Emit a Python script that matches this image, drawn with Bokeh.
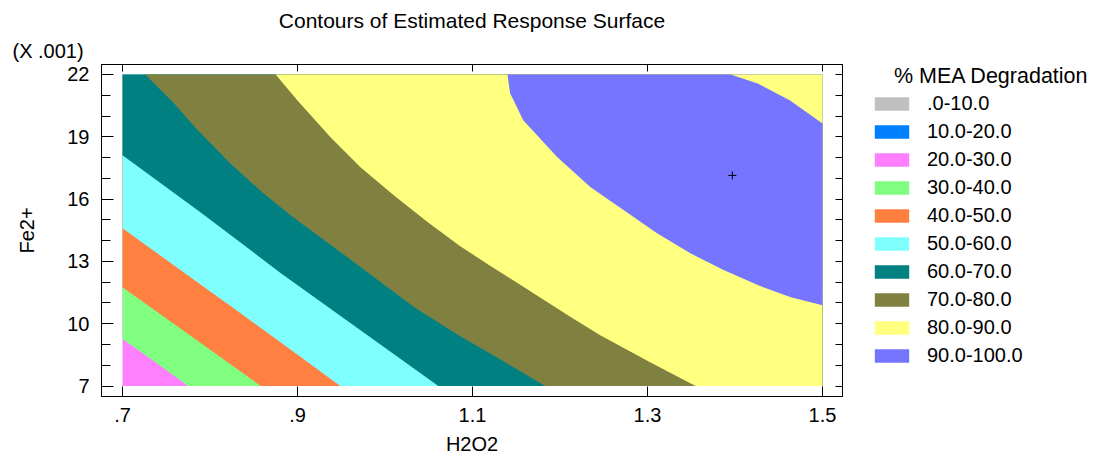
from bokeh.plotting import figure
from bokeh.layouts import row
from bokeh.models import (LinearAxis, FixedTicker, Range1d, Title, Legend, LegendItem)
from bokeh.embed import file_html
from bokeh.resources import INLINE

# ---------------- data ----------------
x_ticks = [0.7, 0.9, 1.1, 1.3, 1.5]
x_tick_labels = [".7", ".9", "1.1", "1.3", "1.5"]
y_ticks = [7, 10, 13, 16, 19, 22]          # in units of 0.001
y_minor = list(range(7, 23))

levels = [".0-10.0", "10.0-20.0", "20.0-30.0", "30.0-40.0", "40.0-50.0",
          "50.0-60.0", "60.0-70.0", "70.0-80.0", "80.0-90.0", "90.0-100.0"]
colors = ["#C0C0C0", "#0080FF", "#FF80FF", "#80FF80", "#FF8040",
          "#80FFFF", "#008080", "#808040", "#FFFF80", "#7575FF"]

# contour lines (H2O2, Fe2+ x1000)
c30_x = [0.700, 0.738, 0.775]
c30_y = [9.26, 8.13, 7.00]
c40_x = [0.700, 0.779, 0.858]
c40_y = [11.76, 9.38, 7.00]
c50_x = [0.700, 0.763, 0.825, 0.888, 0.949]
c50_y = [14.60, 12.68, 10.80, 8.88, 7.00]
c60_x = [0.700, 0.789, 0.881, 0.972, 1.061]
c60_y = [18.11, 15.37, 12.43, 9.69, 7.00]
c70_x = [0.726, 0.758, 0.786, 0.823, 0.861, 0.895, 0.957, 1.033, 1.086, 1.135, 1.183]
c70_y = [22.00, 20.65, 19.31, 17.72, 16.28, 15.13, 13.20, 10.80, 9.40, 8.20, 7.00]
c80_x = [0.875, 0.900, 0.938, 0.972, 1.010, 1.049, 1.086, 1.121, 1.155, 1.209, 1.246, 1.303, 1.355]
c80_y = [22.00, 20.75, 18.97, 17.53, 16.18, 14.88, 13.73, 12.77, 11.86, 10.41, 9.45, 8.15, 7.00]
c90_low_x = [1.140, 1.143, 1.158, 1.197, 1.235, 1.273, 1.311, 1.349, 1.387, 1.426, 1.463, 1.500]
c90_low_y = [22.00, 21.09, 19.79, 18.01, 16.57, 15.46, 14.36, 13.39, 12.58, 11.86, 11.28, 10.89]
c90_up_x = [1.395, 1.426, 1.463, 1.500]
c90_up_y = [22.00, 21.57, 20.75, 19.64]

opt_x = [1.397]
opt_y = [17.14]

# ---------------- main figure ----------------
X0, X1 = x_ticks[0], x_ticks[-1]
Y0, Y1 = y_ticks[0], y_ticks[-1]
FONT = "Liberation Sans"

p = figure(width=870, height=457, output_backend="svg", toolbar_location=None,
           title=None,
           x_range=Range1d(X0 - 0.024, X1 + 0.0229),
           y_range=Range1d(Y0 - 0.505, Y1 + 0.48),
           min_border_left=101, min_border_right=28,
           min_border_top=64, min_border_bottom=60,
           background_fill_color="white", border_fill_color="white")
p.outline_line_color = "black"
p.outline_line_width = 1
p.grid.visible = False

def band(bx, by, corners_x, corners_y, color):
    p.patch(bx + corners_x, by + corners_y, fill_color=color, line_color=None)

p.patch([X0, X1, X1, X0], [Y0, Y0, Y1, Y1], fill_color=colors[2], line_color=None)
band(c30_x, c30_y, [X1, X1, X0], [Y0, Y1, Y1], colors[3])
band(c40_x, c40_y, [X1, X1, X0], [Y0, Y1, Y1], colors[4])
band(c50_x, c50_y, [X1, X1, X0], [Y0, Y1, Y1], colors[5])
band(c60_x, c60_y, [X1, X1, X0], [Y0, Y1, Y1], colors[6])
band(c70_x, c70_y, [X1, X1], [Y0, Y1], colors[7])
band(c80_x, c80_y, [X1, X1], [Y0, Y1], colors[8])
band(c90_low_x, c90_low_y, [X1], [Y1], colors[9])
band(c90_up_x, c90_up_y, [X1], [Y1], colors[8])

p.scatter(opt_x, opt_y, marker="cross", size=8, line_color="black", line_width=1)

# axes
xa = p.xaxis[0]
xa.ticker = FixedTicker(ticks=x_ticks, minor_ticks=[])
xa.major_label_overrides = {t: l for t, l in zip(x_ticks, x_tick_labels)}
xa.major_tick_in = 10
xa.major_tick_out = 0
xa.minor_tick_line_color = None
xa.major_label_standoff = 11
xa.major_label_text_font = FONT
xa.major_label_text_font_size = "20px"
xa.major_label_text_color = "black"
xa.axis_label = "H2O2"
xa.axis_label_text_font = FONT
xa.axis_label_text_font_size = "20px"
xa.axis_label_text_font_style = "normal"
xa.axis_label_standoff = 8
xa.axis_label_text_color = "black"

ya = p.yaxis[0]
ya.ticker = FixedTicker(ticks=y_ticks, minor_ticks=y_minor)
ya.major_tick_in = 12
ya.major_tick_out = 0
ya.minor_tick_in = 9
ya.minor_tick_out = 0
ya.major_label_standoff = 12
ya.major_label_text_font = FONT
ya.major_label_text_font_size = "20px"
ya.major_label_text_color = "black"
ya.axis_label = "Fe2+"
ya.axis_label_text_font = FONT
ya.axis_label_text_font_size = "20px"
ya.axis_label_text_font_style = "normal"
ya.axis_label_standoff = 26
ya.axis_label_text_color = "black"

top = LinearAxis(ticker=FixedTicker(ticks=x_ticks, minor_ticks=[]),
                 major_tick_in=7, major_tick_out=0, minor_tick_line_color=None,
                 major_label_text_font_size="1px", major_label_text_color=None,
                 major_label_standoff=0)
p.add_layout(top, "above")
right = LinearAxis(ticker=FixedTicker(ticks=y_minor, minor_ticks=[]),
                   major_tick_in=7, major_tick_out=0, minor_tick_line_color=None,
                   major_label_text_font_size="1px", major_label_text_color=None,
                   major_label_standoff=0)
p.add_layout(right, "right")

# titles
p.add_layout(Title(text="(X .001)", align="left", offset=-89, standoff=6,
                   text_font=FONT, text_font_size="20px", text_font_style="normal",
                   text_color="black"), "above")
p.add_layout(Title(text="Contours of Estimated Response Surface", align="center",
                   standoff=5, text_font=FONT, text_font_size="21px",
                   text_font_style="normal", text_color="black"), "above")

# ---------------- legend panel ----------------
leg = figure(width=227, height=457, output_backend="svg", toolbar_location=None,
             title=None, x_range=Range1d(0, 1), y_range=Range1d(0, 1),
             min_border_left=0, min_border_right=0,
             min_border_top=64, min_border_bottom=0,
             background_fill_color="white", border_fill_color="white")
leg.outline_line_color = None
leg.axis.visible = False
leg.grid.visible = False

items = []
for lvl, col in zip(levels, colors):
    r = leg.quad(left=[0], right=[1], bottom=[0], top=[1],
                 fill_color=col, line_color=None, visible=False)
    items.append(LegendItem(label=lvl, renderers=[r]))

legend = Legend(items=items, location="top_left", orientation="vertical",
                title="\u00a0\u00a0\u00a0\u00a0% MEA Degradation",
                title_text_font=FONT, title_text_font_size="21.5px",
                title_text_font_style="normal", title_text_color="black",
                title_standoff=3,
                glyph_width=43, glyph_height=17, label_standoff=14, spacing=5,
                padding=0, margin=0, border_line_color=None, background_fill_alpha=0,
                label_text_font=FONT, label_text_font_size="20px",
                label_text_color="black")
leg.add_layout(legend, "center")

layout = row(p, leg, spacing=0)
open("out.html", "w").write(file_html(layout, INLINE))
